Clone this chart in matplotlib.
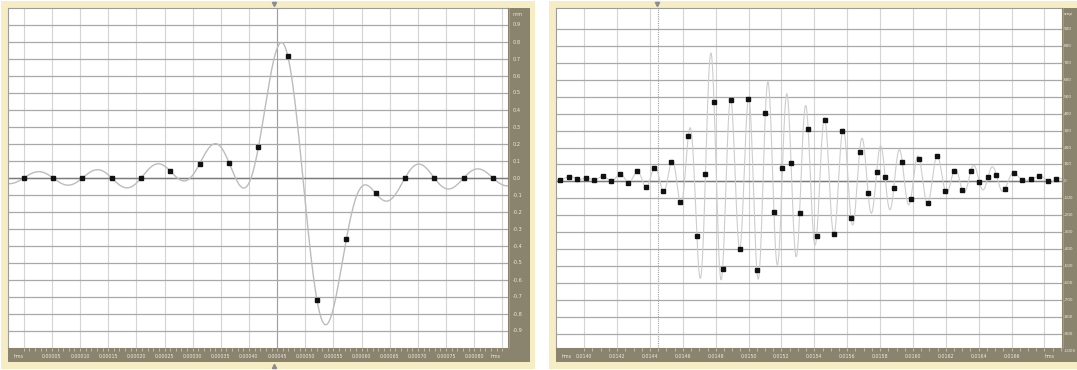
import numpy as np
import matplotlib
matplotlib.use("Agg")
import matplotlib.pyplot as plt
from matplotlib.patches import Rectangle
from matplotlib.lines import Line2D

W, H = 1077, 370
dt = 1 / 19200  # sample period, s

# left view: normalized amplitude of a short pulse
left_vals = [0.0, 0.0, 0.0, 0.0, 0.0, 0.04, 0.085, 0.09, 0.18, 0.72,
             -0.72, -0.36, -0.09, 0.0, 0.0, 0.0, 0.0]
left_t0 = 0.0
left_xlim = (-0.000028, 0.000860)
left_ylim = (-1.0, 1.0)
left_ygrid = [round(v, 1) for v in np.arange(-0.9, 0.95, 0.1)]
left_ylabels = ["%.1f" % v if v != 0 else "0.0" for v in left_ygrid]
left_xgrid = [round(0.00005 * k, 5) for k in range(0, 18)]
left_xlabels = ["%.5f" % (0.00005 * k) for k in range(1, 17)]
left_cursor = 0.00045

# right view: sample values of a burst
right_vals = [8, 28, 13, 21, 9, 32, 1, 44, -7, 59,
              -32, 82, -55, 116, -119, 269, -322, 41, 472, -518,
              480, -397, 486, -522, 405, -181, 82, 108, -188, 310,
              -320, 362, -314, 300, -216, 172, -70, 58, 23, -40,
              112, -102, 135, -130, 148, -55, 62, -52, 62, -3,
              23, 36, -46, 52, 9, 13, 31, 1, 12]
right_t0 = 0.013852
right_xlim = (0.013828, 0.016907)
right_ylim = (-985, 1025)
right_ygrid = list(range(-1000, 1000, 100))
right_ylabels = [str(v) for v in right_ygrid]
right_xgrid = [round(0.0140 + 0.0002 * k, 4) for k in range(0, 15)]
right_xlabels = ["%.4f" % (0.0140 + 0.0002 * k) for k in range(0, 14)]
right_cursor = 0.014449

YELLOW = "#f6edc4"
OLIVE = "#8a836e"
LABEL = "#eeeadf"


def box(x, y, w, h):
    return [x / W, 1 - (y + h) / H, w / W, h / H]


def fig_rect(fig, x, y, w, h, color):
    fig.add_artist(Rectangle((x / W, 1 - (y + h) / H), w / W, h / H,
                             transform=fig.transFigure, fc=color, ec="none",
                             zorder=0))


def reconstruct(t0, vals, xlim):
    # band-limited waveform through the samples
    s = np.asarray(vals, dtype=float)
    tn = t0 + np.arange(len(s)) * dt
    t = np.linspace(xlim[0], xlim[1], 3000)
    y = (s[None, :] * np.sinc((t[:, None] - tn[None, :]) / dt)).sum(axis=1)
    return tn, t, y


def panel(fig, frame, plot, vals, t0, xlim, ylim, ygrid, ylabels,
          xgrid, xtick_pos, xlabels, unit, cursor, cursor_ls, minor_step,
          wave_color, wave_lw, rlab_x, rlab_size):
    fx, fy, fw, fh = frame
    px, py, pw, ph = plot
    fig_rect(fig, fx, fy, fw, fh, YELLOW)

    ax = fig.add_axes(box(px, py, pw, ph))
    ax.set_xlim(xlim)
    ax.set_ylim(ylim)
    ax.set_xticks([])
    ax.set_yticks([])
    for sp in ax.spines.values():
        sp.set_color("#9c9c9c")
        sp.set_linewidth(0.8)
    for x in xgrid:
        ax.axvline(x, color="#d4d4d4", lw=0.8, zorder=1)
    ax.axvline(cursor, color="#a0a0a0", lw=0.8, ls=cursor_ls, zorder=1)
    for v in ygrid:
        ax.axhline(v, color="#a9a9a9", lw=0.9, zorder=1)
    ax.axhline(0, color="#7c7c7c", lw=1.0, zorder=1)

    tn, t, y = reconstruct(t0, vals, xlim)
    ax.plot(t, y, color=wave_color, lw=wave_lw, zorder=2)
    ax.plot(tn, vals, "s", ms=2.5, color="#111111", zorder=3)

    # amplitude ruler on the right
    ar = fig.add_axes(box(px + pw, py, 22, ph))
    ar.set_facecolor(OLIVE)
    ar.set_ylim(ylim)
    ar.set_xlim(0, 1)
    ar.set_xticks([])
    ar.set_yticks([])
    for sp in ar.spines.values():
        sp.set_visible(False)
    ar.axvline(0.05, color="#a59f8c", lw=0.6)
    for v, lab in zip(ygrid, ylabels):
        ar.text(rlab_x, v, lab, fontsize=rlab_size, color=LABEL,
                va="center", ha="left")
    ar.text(rlab_x, ylim[1] - (ylim[1] - ylim[0]) * 0.012, unit,
            fontsize=rlab_size, color=LABEL, va="top", ha="left")

    # time ruler below
    ab = fig.add_axes(box(px, py + ph, pw, 14))
    ab.set_facecolor(OLIVE)
    ab.set_xlim(xlim)
    ab.set_ylim(0, 1)
    ab.set_yticks([])
    ab.set_xticks(np.arange(xgrid[0], xlim[1], minor_step))
    ab.set_xticklabels([])
    ab.tick_params(axis="x", direction="in", length=2, width=0.5,
                   colors="#d8d3c2", top=True, bottom=False)
    for sp in ab.spines.values():
        sp.set_visible(False)
    for x, lab in zip(xtick_pos, xlabels):
        ab.text(x, 0.42, lab, fontsize=3.4, color=LABEL, ha="center",
                va="center")
    ab.text(0.012, 0.42, "hms", fontsize=3.4, color=LABEL, ha="left",
            va="center", transform=ab.transAxes)
    ab.text(0.985, 0.42, "hms", fontsize=3.4, color=LABEL, ha="right",
            va="center", transform=ab.transAxes)

    # corner box
    fig_rect(fig, px + pw, py + ph, 22, 14, OLIVE)
    return ax


fig = plt.figure(figsize=(W / 100, H / 100), dpi=100)
fig.patch.set_facecolor("white")

panel(fig, (1, 1, 534, 368), (8, 8, 500, 340), left_vals, left_t0,
      left_xlim, left_ylim, left_ygrid, left_ylabels, left_xgrid,
      left_xgrid[1:17], left_xlabels, "nrm", left_cursor, "-", 0.00001,
      "#bcbcbc", 1.0, 0.2, 3.6)

panel(fig, (549, 1, 528, 368), (556, 8, 506, 340), right_vals, right_t0,
      right_xlim, right_ylim, right_ygrid, right_ylabels, right_xgrid,
      right_xgrid[0:14], right_xlabels, "smp", right_cursor, (0, (1, 1)),
      0.00005, "#cdcdcd", 0.8, 0.08, 3.1)

# position markers on the frames
for x, y, m in [(274, 4, "v"), (274, 366, "^"), (657, 4, "v")]:
    fig.add_artist(Line2D([x / W], [1 - y / H], marker=m, ms=3,
                          color="#8c8c8c", transform=fig.transFigure))

fig.savefig("out.png", dpi=100, facecolor="white")
